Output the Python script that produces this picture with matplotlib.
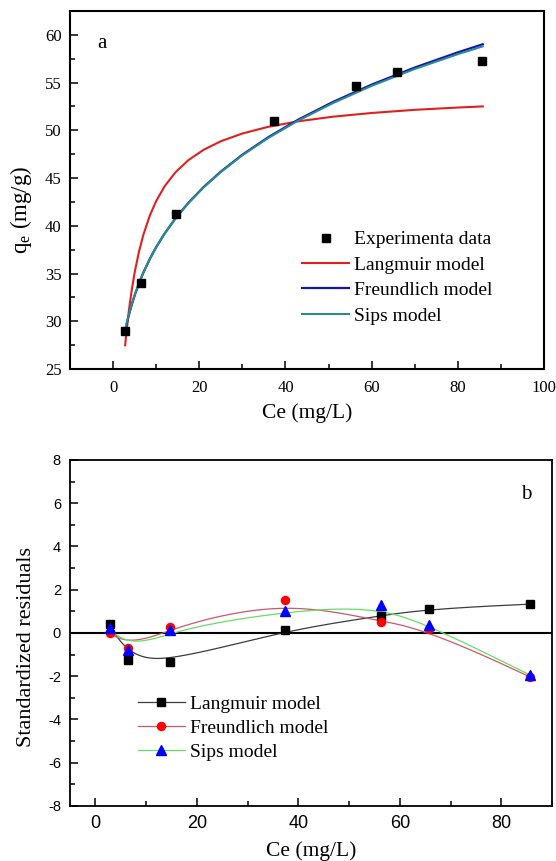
import numpy as np
import matplotlib
matplotlib.use('Agg')
import matplotlib.pyplot as plt
from matplotlib.ticker import MultipleLocator

plt.rcParams['font.family'] = ['Liberation Serif', 'DejaVu Serif']
plt.rcParams['mathtext.fontset'] = 'custom'
plt.rcParams['mathtext.rm'] = 'Liberation Serif'
plt.rcParams['mathtext.it'] = 'Liberation Serif:italic'
plt.rcParams['axes.unicode_minus'] = False

# equilibrium data
ce = [2.8, 6.5, 14.7, 37.3, 56.3, 65.8, 85.6]
qe = [29.0, 34.0, 41.2, 51.0, 54.6, 56.1, 57.3]

# fitted isotherm curves
ce_fit = [2.8, 3.2, 3.7, 4.3, 5, 6, 7, 8.5, 10, 12, 14.5, 17.5, 21, 25, 30,
          36, 43, 51, 60, 70, 80, 85.8]
q_langmuir = [27.49, 29.29, 31.23, 33.19, 35.10, 37.28, 39.02, 41.05, 42.60,
              44.17, 45.62, 46.89, 47.96, 48.86, 49.67, 50.37, 50.95, 51.43,
              51.82, 52.15, 52.39, 52.51]
q_freundlich = [28.99, 29.81, 30.72, 31.69, 32.70, 33.97, 35.07, 36.51, 37.77,
                39.22, 40.80, 42.42, 44.06, 45.68, 47.45, 49.28, 51.13, 52.97,
                54.79, 56.58, 58.17, 59.02]
q_sips = [29.10, 29.90, 30.80, 31.76, 32.75, 34.00, 35.09, 36.52, 37.77,
          39.21, 40.78, 42.39, 44.02, 45.63, 47.39, 49.20, 51.03, 52.85,
          54.66, 56.43, 57.98, 58.80]

# standardized residuals
res_langmuir = [0.40, -1.27, -1.34, 0.12, 0.79, 1.13, 1.33]
res_freundlich = [0.02, -0.68, 0.28, 1.51, 0.51, 0.18, -2.03]
res_sips = [0.21, -0.77, 0.15, 1.00, 1.28, 0.38, -1.94]


def bspline(px, py, k=3, num=300):
    # clamped uniform B-spline through the control points (like Origin's B-Spline line)
    n = len(px)
    knots = np.concatenate([np.zeros(k), np.linspace(0, 1, n - k + 1), np.ones(k)])
    t = np.linspace(0, 1, num)
    B = np.zeros((num, len(knots) - 1))
    for i in range(len(knots) - 1):
        B[:, i] = (t >= knots[i]) & (t < knots[i + 1])
    B[t == 1, n - 1] = 1
    for d in range(1, k + 1):
        nb = np.zeros((num, len(knots) - 1 - d))
        for i in range(len(knots) - 1 - d):
            a = knots[i + d] - knots[i]
            b = knots[i + d + 1] - knots[i + 1]
            if a > 0:
                nb[:, i] += (t - knots[i]) / a * B[:, i]
            if b > 0:
                nb[:, i] += (knots[i + d + 1] - t) / b * B[:, i + 1]
        B = nb
    return B @ np.asarray(px), B @ np.asarray(py)


fig = plt.figure(figsize=(5.56, 8.61), dpi=100)

# ---- (a) isotherm fits ----
ax1 = fig.add_axes([0.1259, 0.5714, 0.8525, 0.4158])
ax1.plot(ce_fit, q_langmuir, color='#e0201e', lw=1.5, label='Langmuir model')
ax1.plot(ce_fit, q_freundlich, color='#1414b4', lw=1.6, label='Freundlich model')
ax1.plot(ce_fit, q_sips, color='#2a8c8c', lw=1.5, label='Sips model')
ax1.plot(ce, qe, 's', color='black', ms=6, ls='none', label='Experimenta data', zorder=5)

ax1.set_xlim(-10, 100)
ax1.set_ylim(25, 62.5)
ax1.xaxis.set_major_locator(MultipleLocator(20))
ax1.xaxis.set_minor_locator(MultipleLocator(10))
ax1.yaxis.set_major_locator(MultipleLocator(5))
ax1.yaxis.set_minor_locator(MultipleLocator(2.5))
ax1.tick_params(which='both', direction='in', top=False, right=False, width=1.1,
                labelsize=12)
ax1.tick_params(which='major', length=5.5)
ax1.tick_params(which='minor', length=3.5)
ax1.tick_params(axis='x', pad=8)
ax1.tick_params(axis='y', pad=6)
for s in ax1.spines.values():
    s.set_linewidth(1.5)
ax1.set_xlabel('Ce (mg/L)', fontsize=15.5, labelpad=5)
ax1.set_ylabel(r'$\mathrm{q_e}$ (mg/g)', fontsize=16.5)
ax1.yaxis.set_label_coords(-0.076, 0.445)
ax1.text(0.058, 0.91, 'a', transform=ax1.transAxes, fontsize=15, va='center')

h, l = ax1.get_legend_handles_labels()
order = [3, 0, 1, 2]
ax1.legend([h[i] for i in order], [l[i] for i in order], loc='upper left',
           bbox_to_anchor=(0.49, 0.386), frameon=False, fontsize=14,
           handlelength=2.4, handletextpad=0.25, labelspacing=0.40,
           borderpad=0, borderaxespad=0, numpoints=1)

# ---- (b) residuals ----
ax2 = fig.add_axes([0.1259, 0.0639, 0.8669, 0.4019])
ax2.axhline(0, color='black', lw=1.5, zorder=1)
series = [
    (res_langmuir, '#3c3c3c', 's', 'black', 5.3, 'Langmuir model'),
    (res_freundlich, '#c85a6a', 'o', '#ff0000', 5.8, 'Freundlich model'),
    (res_sips, '#66dd66', '^', '#0000ff', 6.5, 'Sips model'),
]
for res, lc, mk, mc, ms, lab in series:
    sx, sy = bspline(ce, res)
    ax2.plot(sx, sy, color=lc, lw=0.9, zorder=2)
    ax2.plot(ce, res, mk, color=mc, ms=ms, ls='none', zorder=4)
    ax2.plot([], [], color=lc, lw=0.9, marker=mk, mfc=mc, mec=mc, ms=ms, label=lab)

ax2.set_xlim(-5, 90)
ax2.set_ylim(-8, 8)
ax2.xaxis.set_major_locator(MultipleLocator(20))
ax2.xaxis.set_minor_locator(MultipleLocator(10))
ax2.yaxis.set_major_locator(MultipleLocator(2))
ax2.yaxis.set_minor_locator(MultipleLocator(1))
ax2.tick_params(which='both', direction='in', top=False, right=False, width=1.1,
                labelfontfamily='Liberation Sans')
ax2.tick_params(which='major', length=5.5)
ax2.tick_params(which='minor', length=3.5)
ax2.tick_params(axis='x', pad=6.5, labelsize=13)
ax2.tick_params(axis='y', pad=6.5, labelsize=10.5)
for s in ax2.spines.values():
    s.set_linewidth(1.3)
ax2.set_xlabel('Ce (mg/L)', fontsize=15.5, labelpad=7)
ax2.set_ylabel('Standardized residuals', fontsize=16)
ax2.yaxis.set_label_coords(-0.071, 0.46)
ax2.text(0.935, 0.9, 'b', transform=ax2.transAxes, fontsize=15, va='center')
ax2.legend(loc='upper left', bbox_to_anchor=(0.141, 0.321), frameon=False,
           fontsize=14, handlelength=2.4, handletextpad=0.3, labelspacing=0.33,
           borderpad=0, borderaxespad=0, numpoints=1)

fig.savefig('out.png', dpi=100)
